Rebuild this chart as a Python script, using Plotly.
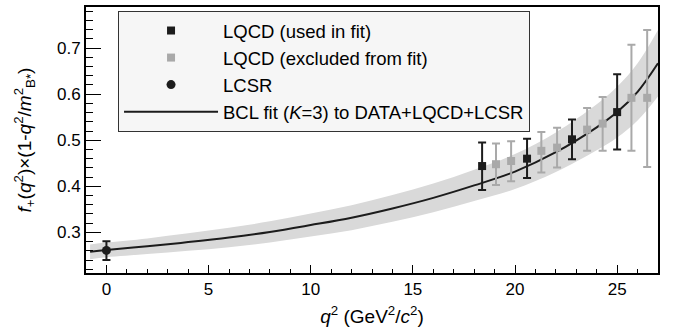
import plotly.graph_objects as go

# ---- data ----
lcsr_x = [0.0]
lcsr_y = [0.261]
lcsr_hi = [0.281]
lcsr_lo = [0.240]

used_x = [18.39, 20.59, 22.79, 25.0]
used_y = [0.444, 0.460, 0.502, 0.561]
used_hi = [0.495, 0.503, 0.545, 0.643]
used_lo = [0.392, 0.418, 0.459, 0.480]

excl_x = [19.07, 19.81, 21.29, 22.06, 23.53, 24.29, 25.70, 26.47]
excl_y = [0.448, 0.455, 0.477, 0.484, 0.523, 0.536, 0.592, 0.592]
excl_hi = [0.493, 0.498, 0.518, 0.527, 0.570, 0.594, 0.707, 0.739]
excl_lo = [0.403, 0.411, 0.430, 0.441, 0.477, 0.477, 0.477, 0.442]

fit_x = [-0.8, 0, 2, 4, 6, 8, 10, 12, 14, 16, 18, 20, 22, 24, 25, 26, 27]
fit_y = [0.258, 0.262, 0.270, 0.279, 0.289, 0.301, 0.316, 0.332, 0.352, 0.375,
         0.402, 0.432, 0.474, 0.528, 0.561, 0.605, 0.667]
band_half = [0.016, 0.016, 0.017, 0.019, 0.021, 0.023, 0.025, 0.027, 0.029, 0.031,
             0.034, 0.038, 0.043, 0.050, 0.055, 0.062, 0.072]
band_hi = [round(a + b, 4) for a, b in zip(fit_y, band_half)]
band_lo = [round(a - b, 4) for a, b in zip(fit_y, band_half)]

BLACK = "#1c1c1c"
GREY = "#a9a9a9"
BAND = "#d9d9d9"
FONT = "Liberation Sans"


def err(y, hi, lo, color):
    return dict(type="data", symmetric=False,
                array=[h - v for h, v in zip(hi, y)],
                arrayminus=[v - l for v, l in zip(y, lo)],
                thickness=2, width=4, color=color)


fig = go.Figure()
fig.add_trace(go.Scatter(x=fit_x, y=band_hi, mode="lines", line=dict(width=0, shape="spline"),
                         showlegend=False, hoverinfo="skip"))
fig.add_trace(go.Scatter(x=fit_x, y=band_lo, mode="lines", line=dict(width=0, shape="spline"),
                         fill="tonexty", fillcolor=BAND, showlegend=False, hoverinfo="skip"))
fig.add_trace(go.Scatter(x=fit_x, y=fit_y, mode="lines", line=dict(color=BLACK, width=2, shape="spline"),
                         name="BCL fit (<i>K</i>=3) to DATA+LQCD+LCSR", legendrank=4, legendgroup="d"))
fig.add_trace(go.Scatter(x=excl_x, y=excl_y, mode="markers",
                         marker=dict(symbol="square", size=8, color=GREY),
                         error_y=err(excl_y, excl_hi, excl_lo, GREY),
                         name="LQCD (excluded from fit)", legendrank=2, legendgroup="b"))
fig.add_trace(go.Scatter(x=used_x, y=used_y, mode="markers",
                         marker=dict(symbol="square", size=8, color=BLACK),
                         error_y=err(used_y, used_hi, used_lo, BLACK),
                         name="LQCD (used in fit)", legendrank=1, legendgroup="a"))
fig.add_trace(go.Scatter(x=lcsr_x, y=lcsr_y, mode="markers",
                         marker=dict(symbol="circle", size=9, color=BLACK),
                         error_y=err(lcsr_y, lcsr_hi, lcsr_lo, BLACK),
                         name="LCSR", legendrank=3, legendgroup="c"))

fig.update_layout(
    width=673, height=335,
    margin=dict(l=86, r=15, t=5, b=62),
    paper_bgcolor="white", plot_bgcolor="white",
    font=dict(family=FONT, size=17, color="black"),
    showlegend=True,
    legend=dict(x=0.056, y=0.985, xanchor="left", yanchor="top",
                bgcolor="#f6f6f6", bordercolor="#333333", borderwidth=1,
                font=dict(family=FONT, size=18.5, color="black"),
                tracegroupgap=0, itemwidth=94, traceorder="grouped"),
    xaxis=dict(range=[-1, 27], tickvals=[0, 5, 10, 15, 20, 25],
               ticks="inside", ticklen=8, tickwidth=1, tickcolor="black",
               minor=dict(dtick=1, ticks="inside", ticklen=4, tickcolor="black"),
               showline=True, linecolor="black", linewidth=2, mirror=True,
               showgrid=False, zeroline=False,
               title=dict(text="<i>q</i><sup>2</sup> (GeV<sup>2</sup>/<i>c</i><sup>2</sup>)",
                          font=dict(size=19), standoff=11)),
    yaxis=dict(range=[0.212, 0.789], dtick=0.1, tick0=0.3, tickformat=".1f",
               ticks="inside", ticklen=15, tickwidth=1, tickcolor="black",
               minor=dict(dtick=0.02, ticks="inside", ticklen=7, tickcolor="black"),
               showline=True, linecolor="black", linewidth=2, mirror=True,
               showgrid=False, zeroline=False,
               title=dict(text="<i>f</i><sub>+</sub>(<i>q</i><sup>2</sup>)×(1-<i>q</i><sup>2</sup>/<i>m</i><sup>2</sup><sub>B*</sub>)",
                          font=dict(size=19), standoff=20)),
)

fig.write_html("out.html")
